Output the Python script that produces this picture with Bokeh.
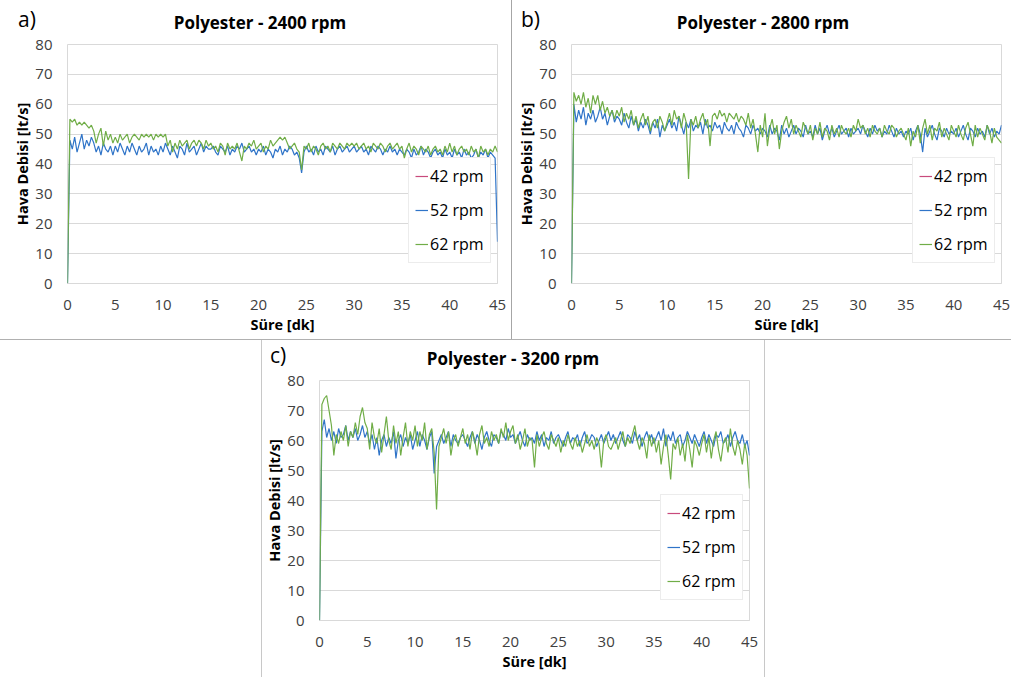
import numpy as np
from bokeh.plotting import figure
from bokeh.models import Legend, LegendItem, Div, Spacer, FixedTicker
from bokeh.layouts import row, column
from bokeh.embed import file_html
from bokeh.resources import INLINE

# time axis [min], 0.25 min sampling
t = [round(0.25 * i, 2) for i in range(181)]
NA = float("nan")  # 42 rpm: no visible data in the reference, legend entry only

# ---- a) Polyester - 2400 rpm ----
a42 = [NA]
a52 = [0, 48, 45, 49, 44, 47, 50, 45, 48, 46, 49, 47, 44, 46, 43, 47, 45, 44, 46, 43,
       46, 44, 47, 45, 43, 46, 44, 47, 45, 43, 46, 44, 45, 47, 43, 46, 44, 45, 43, 46,
       44, 47, 45, 43, 46, 44, 42, 46, 45, 43, 47, 44, 45, 46, 43, 45, 47, 44, 46, 45,
       45, 46, 44, 43, 46, 45, 44, 46, 43, 45, 44, 46, 45, 47, 44, 45, 46, 44, 45, 43,
       45, 44, 46, 43, 45, 44, 42, 45, 44, 46, 43, 45, 44, 46, 45, 43, 44, 42, 37, 44,
       46, 44, 45, 43, 46, 44, 45, 43, 46, 45, 44, 46, 43, 45, 46, 44, 45, 46, 44, 45,
       46, 44, 45, 46, 44, 45, 43, 46, 45, 44, 46, 45, 43, 45, 44, 46, 44, 45, 43, 45,
       44, 43, 45, 44, 42, 45, 43, 44, 46, 43, 45, 44, 42, 44, 45, 43, 44, 42, 45, 43,
       44, 42, 45, 43, 44, 42, 45, 43, 44, 42, 43, 45, 42, 44, 43, 45, 42, 44, 43, 42,
       14]
a62 = [0, 55, 54, 55, 53, 54, 53, 54, 53, 52, 53, 51, 47, 50, 52, 46, 51, 48, 50, 47,
       49, 47, 50, 48, 49, 50, 47, 49, 50, 49, 48, 50, 49, 50, 49, 50, 48, 50, 49, 50,
       49, 50, 46, 48, 44, 47, 45, 48, 46, 47, 48, 45, 47, 48, 46, 48, 47, 45, 48, 46,
       47, 45, 46, 44, 47, 46, 43, 47, 45, 46, 45, 47, 44, 41, 46, 45, 47, 46, 48, 45,
       46, 47, 44, 46, 45, 48, 46, 47, 48, 49, 48, 49, 47, 45, 46, 47, 45, 44, 38, 46,
       45, 47, 44, 46, 45, 43, 46, 47, 45, 46, 44, 47, 46, 45, 47, 46, 45, 47, 46, 47,
       46, 47, 45, 46, 47, 45, 46, 44, 47, 46, 45, 47, 46, 44, 46, 47, 45, 46, 47, 45,
       46, 42, 45, 47, 44, 46, 45, 43, 46, 45, 44, 46, 43, 45, 46, 44, 45, 43, 46, 44,
       47, 44, 46, 43, 45, 46, 44, 45, 43, 46, 44, 45, 42, 46, 44, 45, 43, 45, 44, 46,
       44]

# ---- b) Polyester - 2800 rpm ----
b42 = [NA]
b52 = [0, 60, 54, 58, 55, 59, 53, 57, 55, 58, 54, 56, 59, 55, 57, 53, 56, 58, 54, 56,
       55, 53, 57, 54, 52, 56, 53, 55, 51, 54, 52, 55, 53, 50, 54, 52, 55, 49, 53, 51,
       53, 55, 52, 54, 51, 56, 53, 50, 54, 52, 55, 51, 53, 52, 54, 50, 55, 52, 53, 51,
       54, 52, 53, 50, 54, 52, 51, 53, 50, 54, 52, 51, 49, 53, 52, 50, 53, 51, 52, 50,
       52, 51, 49, 53, 50, 52, 51, 48, 53, 50, 52, 49, 51, 53, 50, 52, 51, 49, 53, 50,
       51, 49, 53, 50, 52, 48, 51, 53, 50, 52, 49, 51, 53, 50, 51, 52, 49, 52, 50, 51,
       52, 50, 53, 51, 49, 52, 50, 53, 51, 52, 49, 51, 50, 53, 51, 49, 52, 50, 51, 49,
       51, 50, 52, 48, 51, 53, 50, 44, 52, 49, 51, 53, 50, 48, 52, 51, 49, 52, 50, 51,
       50, 52, 49, 51, 53, 50, 48, 52, 51, 49, 52, 50, 51, 49, 53, 50, 52, 49, 51, 50,
       53]
b62 = [0, 64, 61, 63, 60, 64, 59, 62, 57, 63, 60, 63, 58, 61, 57, 59, 56, 58, 55, 58,
       56, 59, 54, 57, 55, 58, 53, 56, 52, 55, 57, 53, 56, 51, 54, 55, 52, 56, 54, 51,
       54, 57, 53, 58, 55, 56, 52, 57, 54, 35, 55, 53, 56, 52, 55, 57, 53, 55, 46, 56,
       57, 55, 58, 56, 57, 54, 57, 56, 55, 57, 54, 56, 55, 53, 57, 52, 55, 50, 44, 53,
       49, 57, 46, 52, 55, 50, 53, 45, 51, 54, 56, 52, 55, 50, 53, 51, 49, 54, 52, 50,
       53, 48, 52, 50, 54, 49, 52, 51, 48, 53, 50, 52, 49, 53, 51, 50, 52, 49, 53, 51,
       55, 52, 53, 50, 52, 49, 53, 51, 50, 52, 49, 53, 51, 50, 53, 52, 49, 51, 52, 50,
       48, 52, 46, 51, 49, 53, 47, 52, 55, 50, 53, 48, 52, 51, 54, 49, 52, 50, 48, 53,
       51, 49, 53, 50, 48, 52, 54, 50, 46, 53, 49, 52, 50, 48, 53, 51, 47, 52, 49, 48,
       47]

# ---- c) Polyester - 3200 rpm ----
c42 = [NA]
c52 = [0, 63, 67, 61, 64, 60, 63, 59, 64, 61, 62, 65, 60, 63, 61, 64, 60, 62, 65, 61,
       63, 59, 62, 57, 61, 55, 60, 62, 58, 61, 59, 63, 54, 60, 62, 58, 61, 59, 62, 57,
       60, 63, 58, 62, 60, 57, 61, 63, 49, 58, 60, 62, 59, 61, 63, 58, 62, 60, 59, 61,
       62, 60, 58, 61, 63, 59, 62, 60, 57, 61, 63, 60, 58, 62, 61, 59, 63, 62, 60, 64,
       61, 62, 59, 61, 63, 60, 58, 62, 60, 61, 59, 63, 60, 62, 58, 61, 60, 63, 59, 61,
       62, 60, 58, 61, 63, 59, 61, 60, 62, 58, 61, 63, 59, 60, 62, 61, 58, 60, 62, 59,
       61, 63, 60, 62, 59, 61, 63, 60, 58, 62, 61, 59, 63, 60, 62, 58, 61, 63, 60, 62,
       59, 61, 63, 60, 64, 58, 62, 60, 63, 59, 61, 62, 58, 60, 63, 61, 59, 62, 60, 58,
       61, 63, 59, 62, 60, 58, 62, 61, 63, 59, 60, 62, 58, 61, 63, 60, 59, 62, 58, 60,
       55]
c62 = [0, 72, 74, 75, 70, 65, 55, 62, 59, 63, 60, 65, 58, 63, 61, 66, 62, 68, 71, 66,
       64, 57, 66, 61, 59, 64, 56, 62, 68, 60, 57, 65, 59, 63, 55, 61, 66, 58, 63, 60,
       65, 58, 63, 60, 66, 57, 62, 64, 56, 37, 58, 61, 64, 59, 63, 55, 60, 62, 58, 61,
       64, 59, 62, 57, 63, 60, 55, 62, 65, 59, 61, 58, 63, 60, 62, 59, 64, 61, 66, 60,
       63, 65, 59, 62, 57, 60, 64, 58, 61, 60, 51, 62, 58, 61, 63, 59, 57, 62, 60, 58,
       61, 56, 60, 58, 62, 59, 57, 61, 58, 60, 56, 59, 62, 58, 60, 57, 61, 59, 51, 60,
       62, 58, 57, 59, 61, 57, 60, 63, 58, 61, 59, 62, 65, 60, 57, 61, 59, 54, 62, 58,
       61, 56, 60, 52, 58, 62, 55, 47, 59, 57, 61, 55, 59, 53, 62, 57, 51, 60, 58, 55,
       59, 62, 56, 61, 54, 60, 63, 57, 53, 59, 61, 56, 64, 58, 55, 60, 57, 52, 59, 55,
       44]

series_names = ["42 rpm", "52 rpm", "62 rpm"]
series_colors = ["#c84a7c", "#2f74c8", "#70ad47"]
x_ticks = list(range(0, 46, 5))
y_ticks = list(range(0, 81, 10))

FONT = "Open Sans"


def make_panel(width, height, bl, br, bt, bb, s42, s52, s62):
    p = figure(width=width, height=height, x_range=(0, 45), y_range=(0, 80),
               output_backend="svg", toolbar_location=None,
               min_border_left=bl, min_border_right=br,
               min_border_top=bt, min_border_bottom=bb)
    p.background_fill_color = "white"
    p.border_fill_color = "white"
    p.outline_line_color = "#d9d9d9"
    p.xgrid.visible = False
    p.ygrid.grid_line_color = "#d9d9d9"
    p.xaxis.ticker = FixedTicker(ticks=x_ticks)
    p.yaxis.ticker = FixedTicker(ticks=y_ticks)
    for ax in (p.xaxis[0], p.yaxis[0]):
        ax.major_tick_line_color = None
        ax.minor_tick_line_color = None
        ax.major_tick_out = 0
        ax.major_tick_in = 0
        ax.minor_tick_out = 0
        ax.minor_tick_in = 0
        ax.major_label_text_font = FONT
        ax.major_label_text_font_size = "15px"
        ax.major_label_text_color = "#404040"
        ax.axis_label_text_font = FONT
        ax.axis_label_text_font_size = "14.5px"
        ax.axis_label_text_font_style = "bold"
        ax.axis_label_text_color = "black"
    p.xaxis.axis_line_color = "#d9d9d9"
    p.yaxis.axis_line_color = None
    p.xaxis.axis_label = "Süre [dk]"
    p.yaxis.axis_label = "Hava Debisi [lt/s]"
    p.xaxis.major_label_standoff = 16
    p.yaxis.major_label_standoff = 15
    p.xaxis.axis_label_standoff = 2
    p.yaxis.axis_label_standoff = 0

    for data, col, name in zip((s42, s52, s62), series_colors, series_names):
        xs = t[:len(data)]
        p.line(xs, data, line_color=col, line_width=1.2, legend_label=name)

    legend = p.legend[0]
    legend.location = (341, 20)
    legend.border_line_color = "#d9d9d9"
    legend.background_fill_color = "white"
    legend.background_fill_alpha = 1
    legend.label_text_font = FONT
    legend.label_text_font_size = "16px"
    legend.label_text_color = "black"
    legend.glyph_width = 13
    legend.glyph_height = 24
    legend.label_height = 24
    legend.spacing = 10
    legend.padding = 6
    legend.label_standoff = 2
    legend.margin = 0
    return p


def header(w, h, letter, lx, ltop, title, tcx, ttop):
    html = (
        f'<div style="position:relative;width:{w}px;height:{h}px;">'
        f'<span style="position:absolute;left:{lx}px;top:{ltop}px;font-family:\'Open Sans\';'
        f'font-size:21px;line-height:normal;color:#000;white-space:nowrap;">{letter}</span>'
        f'<span style="position:absolute;left:{tcx}px;top:{ttop}px;transform:translateX(-50%);'
        f'font-family:\'Open Sans\';font-size:17px;font-weight:bold;line-height:normal;'
        f'color:#000;white-space:nowrap;">{title}</span></div>'
    )
    return Div(text=html, width=w, height=h, margin=0, styles={"background-color": "white"})


def vline(h, color):
    return Div(text="", width=1, height=h, margin=0,
               styles={"background-color": color, "overflow": "hidden"})


pa = make_panel(511, 305, 67, 14, 10, 56, a42, a52, a62)
pb = make_panel(499, 305, 59, 10, 10, 56, b42, b52, b62)
pc = make_panel(502, 307, 57, 15, 10, 57, c42, c52, c62)

ha = header(511, 34, "a)", 18, 5, "Polyester - 2400 rpm", 260, 10.5)
hb = header(499, 34, "b)", 9, 5, "Polyester - 2800 rpm", 251, 10.5)
hc = header(502, 30, "c)", 8, 1, "Polyester - 3200 rpm", 251, 6.5)

top = row(column(ha, pa), vline(339, "#a6a6a6"), column(hb, pb))
hline = Div(text="", width=1011, height=1, margin=0,
            styles={"background-color": "#b0b0b0", "overflow": "hidden"})
bottom = row(Spacer(width=261, height=337, margin=0), vline(337, "#c8c8c8"),
             column(hc, pc), vline(337, "#c8c8c8"), Spacer(width=246, height=337, margin=0))
layout = column(top, hline, bottom)

open("out.html", "w").write(file_html(layout, INLINE))
